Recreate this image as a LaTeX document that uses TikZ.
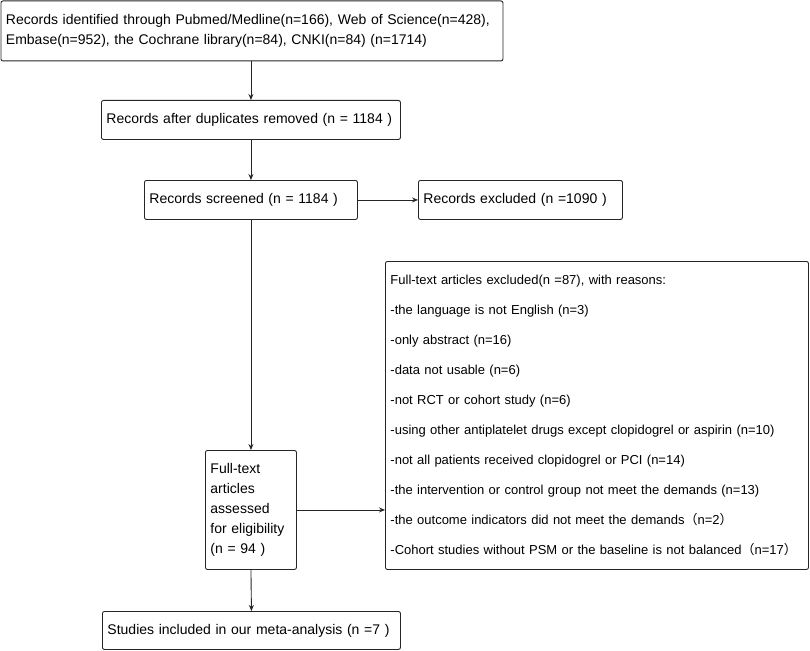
\documentclass[tikz,border=0pt]{standalone}
\usepackage{fontspec}
\setmainfont{Liberation Sans}
\newfontfamily\cjk{Noto Sans CJK SC}
\usetikzlibrary{arrows.meta}
\begin{document}
\begin{tikzpicture}[x=1pt,y=-1pt,
  box/.style={draw=black!85, line width=0.9pt, rounded corners=2pt, anchor=north west,
    inner xsep=5pt, inner ysep=0pt, align=left, font=\fontsize{14}{20}\selectfont},
  wide/.style={font=\fontsize{13}{30}\selectfont},
  arr/.style={draw=black!85, line width=0.9pt, -{Stealth[length=6pt,width=5pt]}}]
\useasboundingbox (0,0) rectangle (810,650);
\node[box, minimum width=502, minimum height=60, text width=492] (id) at (0.5,0.5)
  {Records identified through Pubmed/Medline(n=166), Web of Science(n=428),\\
   Embase(n=952), the Cochrane library(n=84), CNKI(n=84) (n=1714)};
\node[box, minimum width=299, minimum height=39, text width=289] (dup) at (101,100)
  {Records after duplicates removed (n = 1184 )};
\node[box, minimum width=213, minimum height=39, text width=203] (scr) at (144,180)
  {Records screened (n = 1184 )};
\node[box, minimum width=204, minimum height=39, text width=194] (exc) at (418,180)
  {Records excluded (n =1090 )};
\node[box, wide, minimum width=423, minimum height=308, text width=413] (ft) at (385,261)
  {Full-text articles excluded(n =87), with reasons:\\
   -the language is not English (n=3)\\
   -only abstract (n=16)\\
   -data not usable (n=6)\\
   -not RCT or cohort study (n=6)\\
   -using other antiplatelet drugs except clopidogrel or aspirin (n=10)\\
   -not all patients received clopidogrel or PCI (n=14)\\
   -the intervention or control group not meet the demands (n=13)\\
   -the outcome indicators did not meet the demands{\cjk （}n=2{\cjk ）}\\
   -Cohort studies without PSM or the baseline is not balanced{\cjk （}n=17{\cjk ）}};
\node[box, minimum width=91, minimum height=119, text width=81] (el) at (205,450)
  {Full-text\\ articles\\ assessed\\ for eligibility\\ (n = 94 )};
\node[box, minimum width=298, minimum height=38, text width=288] (inc) at (102,611)
  {Studies included in our meta-analysis (n =7 )};
\draw[arr] (id.south -| dup.north) -- (dup.north);
\draw[arr] (dup.south) -- (scr.north);
\draw[arr] (scr.east) -- (exc.west);
\draw[arr] (scr.south) -- (el.north);
\draw[arr] (el.east) -- (el.east -| ft.west);
\draw[arr] (el.south) -- (inc.north);
\end{tikzpicture}
\end{document}
